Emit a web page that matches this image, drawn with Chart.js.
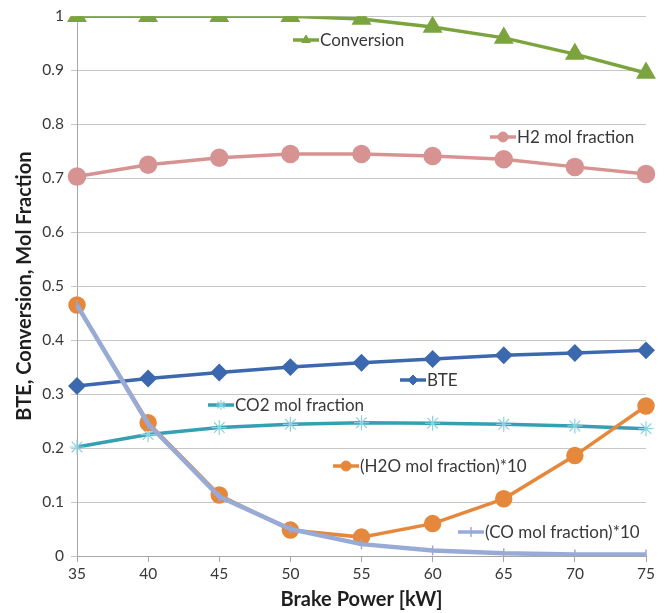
<!DOCTYPE html>
<html>
<head>
<meta charset="utf-8">
<script src="https://cdn.jsdelivr.net/npm/chart.js@4/dist/chart.umd.min.js"></script>
<style>
  html, body { margin: 0; padding: 0; background: #fff; }
  #wrap { width: 666px; height: 613px; }
</style>
</head>
<body>
<div id="wrap"><canvas id="chart" width="666" height="613"></canvas></div>
<script>
// ---- data ----
const brakePower = ["35", "40", "45", "50", "55", "60", "65", "70", "75"];
const bte        = [0.315, 0.329, 0.340, 0.350, 0.358, 0.365, 0.372, 0.376, 0.381];
const conversion = [1.000, 1.000, 1.000, 1.000, 0.995, 0.980, 0.960, 0.930, 0.895];
const h2Frac     = [0.703, 0.725, 0.738, 0.745, 0.745, 0.741, 0.735, 0.721, 0.708];
const co2Frac    = [0.202, 0.225, 0.238, 0.244, 0.247, 0.246, 0.244, 0.241, 0.236];
const h2oFrac10  = [0.465, 0.247, 0.113, 0.048, 0.035, 0.060, 0.106, 0.186, 0.278];
const coFrac10   = [0.465, 0.245, 0.110, 0.050, 0.022, 0.010, 0.005, 0.003, 0.003];
const yTicks     = [0, 0.1, 0.2, 0.3, 0.4, 0.5, 0.6, 0.7, 0.8, 0.9, 1];

const FONT = "Lato, 'Open Sans', sans-serif";
const TEXT = "#383838";
const TITLE = "#1f1f1f";

// floating legend labels (Excel style, placed next to each line)
const legendSpots = {
    "Conversion":             { x: 293, y: 40 },
    "H2 mol fraction":        { x: 490, y: 137 },
    "BTE":                    { x: 400, y: 380 },
    "CO2 mol fraction":       { x: 208, y: 405 },
    "(H2O mol fraction)*10":  { x: 333, y: 466 },
    "(CO mol fraction)*10":   { x: 458, y: 532 }
};

function series(label, data, colour, style, radius, extra) {
    return Object.assign({
        label,
        data,
        borderColor: colour,
        backgroundColor: colour,
        pointBackgroundColor: colour,
        pointBorderColor: colour,
        borderWidth: 3.5,
        pointStyle: style,
        pointRadius: radius,
        pointHoverRadius: radius,
        tension: 0
    }, extra || {});
}

const datasets = [
    series("(CO mol fraction)*10", coFrac10, "#98AAD6", "line", 5,
        { borderWidth: 4.5, pointRotation: 90, pointBorderWidth: 1.5 }),
    series("(H2O mol fraction)*10", h2oFrac10, "#E5883C", "circle", 7),
    series("CO2 mol fraction", co2Frac, "#35A0B4", "star", 7.5,
        { pointBorderColor: "#8BD2E0", pointBorderWidth: 1.2 }),
    series("BTE", bte, "#3C68AE", "rectRot", 6.5),
    series("H2 mol fraction", h2Frac, "#D69392", "circle", 7.5),
    series("Conversion", conversion, "#7BA43F", "triangle", 8)
];

// draws the floating legend entries
const floatingLegend = {
    id: "floatingLegend",
    afterDatasetsDraw(chart) {
        const ctx = chart.ctx;
        chart.data.datasets.forEach(ds => {
            const spot = legendSpots[ds.label];
            if (!spot) return;
            const len = 26;
            ctx.save();
            ctx.strokeStyle = ds.borderColor;
            ctx.lineWidth = 3.5;
            ctx.beginPath();
            ctx.moveTo(spot.x, spot.y);
            ctx.lineTo(spot.x + len, spot.y);
            ctx.stroke();
            ctx.fillStyle = ds.pointBackgroundColor;
            ctx.strokeStyle = ds.pointBorderColor;
            ctx.lineWidth = ds.pointBorderWidth || 1;
            Chart.helpers.drawPoint(ctx, {
                pointStyle: ds.pointStyle,
                radius: Math.min(ds.pointRadius, 5),
                rotation: ds.pointRotation || 0,
                borderWidth: ds.pointBorderWidth || 1
            }, spot.x + len / 2, spot.y);
            ctx.fillStyle = TEXT;
            ctx.font = "17px " + FONT;
            ctx.textBaseline = "middle";
            ctx.textAlign = "left";
            ctx.fillText(ds.label, spot.x + len + 1, spot.y + 1);
            ctx.restore();
        });
    }
};

new Chart(document.getElementById("chart"), {
    type: "line",
    data: { labels: brakePower, datasets },
    plugins: [floatingLegend],
    options: {
        responsive: false,
        animation: false,
        layout: { padding: { top: 15, right: 20, left: 0, bottom: 0 } },
        plugins: {
            legend: { display: false },
            tooltip: { enabled: false }
        },
        scales: {
            x: {
                offset: false,
                grid: { drawOnChartArea: false, color: "#A6A6A6", tickLength: 6 },
                border: { color: "#A6A6A6" },
                ticks: { color: TEXT, font: { family: FONT, size: 15.5 }, padding: 3, maxRotation: 0 },
                title: {
                    display: true,
                    text: "Brake Power [kW]",
                    color: TITLE,
                    font: { family: FONT, size: 20, weight: "bold" },
                    padding: { top: 0, bottom: 1 }
                },
                afterFit(scale) { scale.height = 57; }
            },
            y: {
                min: 0,
                max: 1,
                afterBuildTicks(scale) { scale.ticks = yTicks.map(v => ({ value: v })); },
                grid: { color: "#C6C6C6", tickLength: 6 },
                border: { color: "#A6A6A6" },
                ticks: {
                    color: TEXT,
                    font: { family: FONT, size: 15.5 },
                    padding: 7,
                    callback: v => String(Math.round(v * 10) / 10)
                },
                title: {
                    display: true,
                    text: "BTE, Conversion, Mol Fraction",
                    color: TITLE,
                    font: { family: FONT, size: 20, weight: "bold" },
                    padding: { top: 13, bottom: 0 }
                },
                afterFit(scale) { scale.width = 77; }
            }
        }
    }
});
</script>
</body>
</html>
